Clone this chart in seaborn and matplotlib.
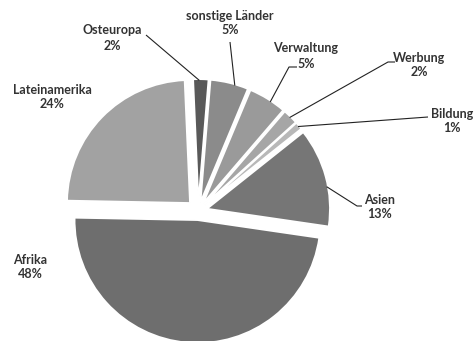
import numpy as np
import matplotlib
matplotlib.use("Agg")
import matplotlib.pyplot as plt
import seaborn as sns

# --- data (counter-clockwise from 12 o'clock) ---
categories = ["Lateinamerika", "Afrika", "Asien", "Bildung", "Werbung",
              "Verwaltung", "sonstige Länder", "Osteuropa"]
shares = [24, 48, 13, 1, 2, 5, 5, 2]
pct_labels = ["24%", "48%", "13%", "1%", "2%", "5%", "5%", "2%"]

# --- style ---
colors = ["#a2a2a2", "#6e6e6e", "#767676", "#b8b8b8", "#a6a6a6",
          "#9a9a9a", "#8b8b8b", "#595959"]
explode = [0.094, 0.073, 0.073, 0.073, 0.073, 0.073, 0.073, 0.073]

sns.set_theme(style="white")
plt.rcParams['font.family'] = ['Lato', 'DejaVu Sans']

W, H = 475, 341
PX = 123.0               # pixels per data unit
CX, CY = 198.3, 211.1    # pie centre in pixel coords


def d(px, py):
    return ((px - CX) / PX, (CY - py) / PX)


fig = plt.figure(figsize=(W / 100, H / 100), dpi=100)
ax = fig.add_axes([0, 0, 1, 1])
wedges, _ = ax.pie(shares, colors=colors, explode=explode, startangle=92.5,
                   counterclock=True, radius=1.0,
                   wedgeprops=dict(edgecolor="white", linewidth=1.3))
ax.set_xlim(d(0, 0)[0], d(W, 0)[0])
ax.set_ylim(d(0, H)[1], d(0, 0)[1])
ax.set_aspect("equal")
ax.axis("off")

# label layout: text centre (px), leader anchor (px) or None, elbow (px) or None, frac in wedge
layout = {
    "Lateinamerika": ((52, 97), None, None, 0.5),
    "Afrika": ((30, 267), None, None, 0.5),
    "Asien": ((380, 207), (362, 206), (357, 206), 0.4),
    "Bildung": ((452, 121), (428, 117), None, 0.5),
    "Werbung": ((419, 65), (395, 62), (388, 62), 0.5),
    "Verwaltung": ((306, 56), (297, 67), (289, 67), 0.4),
    "sonstige Länder": ((230, 23), (230, 42), None, 0.35),
    "Osteuropa": ((112, 38), (146, 35), None, 0.6),
}

txt_color = "#333333"
for w, cat, pct in zip(wedges, categories, pct_labels):
    (tx, ty), anchor, elbow, frac = layout[cat]
    ax.text(*d(tx, ty), f"{cat}\n{pct}", ha="center", va="center",
            fontsize=9.0, fontweight="bold", color=txt_color, linespacing=1.3)
    if anchor is not None:
        ang = np.deg2rad(w.theta1 + frac * (w.theta2 - w.theta1))
        cx, cy = w.center
        ex, ey = cx + w.r * 0.99 * np.cos(ang), cy + w.r * 0.99 * np.sin(ang)
        pts = [d(*anchor)]
        if elbow is not None:
            pts.append(d(*elbow))
        pts.append((ex, ey))
        xs, ys = zip(*pts)
        ax.plot(xs, ys, color="#222222", lw=0.8, solid_capstyle="butt")

fig.savefig("out.png", dpi=100)
